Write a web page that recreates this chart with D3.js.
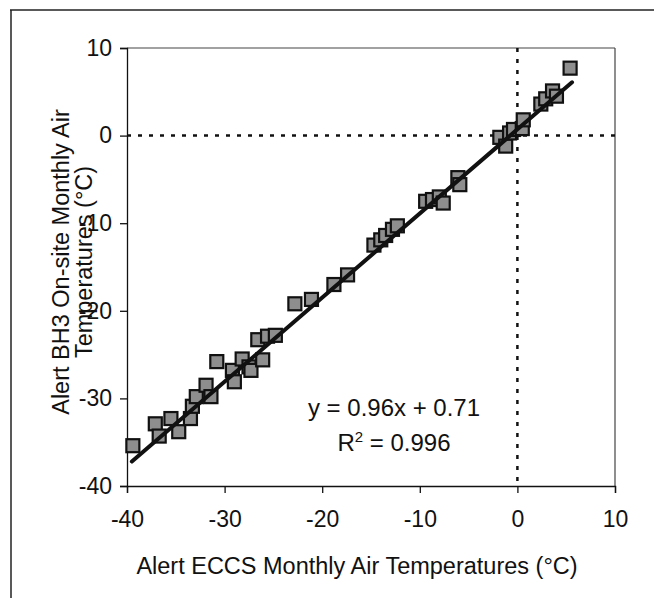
<!DOCTYPE html>
<html>
<head>
<meta charset="utf-8">
<script src="https://cdn.jsdelivr.net/npm/d3@7"></script>
<style>
  body { margin: 0; background: #fff; }
  text { font-family: "Liberation Sans", Arial, sans-serif; fill: #111; }
</style>
</head>
<body>
<div id="chart"></div>
<script>
  // monthly air temperatures, ECCS station (x) vs BH3 on-site (y), degC
  var eccsTemps = [-39.4, -37.1, -36.7, -35.5, -34.7, -33.5, -33.3, -32.9, -31.9, -31.4,
    -30.8, -29.2, -29.0, -28.2, -27.5, -27.3, -26.6, -26.1, -25.6, -24.8,
    -22.8, -21.1, -18.8, -17.4, -14.7, -14.0, -13.5, -12.8, -12.3, -9.4,
    -8.7, -8.0, -7.6, -6.1, -5.9, -1.8, -1.2, -0.8, -0.4, 0.5,
    0.6, 2.4, 2.9, 3.6, 4.0, 5.4];
  var bh3Temps = [-35.4, -32.9, -34.3, -32.3, -33.8, -32.3, -30.9, -29.8, -28.5, -29.8,
    -25.8, -26.8, -28.1, -25.5, -26.4, -26.8, -23.3, -25.6, -22.9, -22.8,
    -19.2, -18.7, -17.0, -15.9, -12.5, -11.9, -11.4, -10.7, -10.3, -7.5,
    -7.3, -7.0, -7.7, -4.8, -5.6, -0.2, -1.2, 0.3, 0.7, 0.8,
    1.8, 3.6, 4.2, 5.1, 4.5, 7.7];
  var xTicks = [-40, -30, -20, -10, 0, 10];
  var yTicks = [-40, -30, -20, -10, 0, 10];
  var slope = 0.96, intercept = 0.71;
  var eqLabels = ["y = 0.96x + 0.71", "0.996"];

  var w = 654, h = 598;
  var svg = d3.select("#chart").append("svg")
    .attr("width", w).attr("height", h)
    .attr("xmlns", "http://www.w3.org/2000/svg");

  var x = d3.scaleLinear().domain([-40, 10]).range([127, 615]);
  var y = d3.scaleLinear().domain([-40, 10]).range([486, 48]);

  // outer frame (top and left only visible)
  svg.append("line").attr("x1", 10).attr("y1", 10).attr("x2", w).attr("y2", 10)
    .attr("stroke", "#222").attr("stroke-width", 1.5);
  svg.append("line").attr("x1", 11).attr("y1", 10).attr("x2", 11).attr("y2", h)
    .attr("stroke", "#222").attr("stroke-width", 1.5);

  // plot box top/right
  svg.append("line").attr("x1", x(-40)).attr("x2", x(10)).attr("y1", y(10)).attr("y2", y(10))
    .attr("stroke", "#444").attr("stroke-width", 1.2);
  svg.append("line").attr("x1", x(10)).attr("x2", x(10)).attr("y1", y(10)).attr("y2", y(-40))
    .attr("stroke", "#444").attr("stroke-width", 1.2);

  var xAxis = svg.append("g").attr("transform", "translate(0," + y(-40) + ")")
    .call(d3.axisBottom(x).tickValues(xTicks).tickSize(7).tickPadding(18).tickFormat(d3.format("d")));
  var yAxis = svg.append("g").attr("transform", "translate(" + x(-40) + ",0)")
    .call(d3.axisLeft(y).tickValues(yTicks).tickSize(7).tickPadding(8).tickFormat(d3.format("d")));
  [xAxis, yAxis].forEach(function(a) {
    a.select(".domain").attr("stroke", "#111").attr("stroke-width", 1.3);
    a.selectAll(".tick line").attr("stroke", "#111").attr("stroke-width", 1.3);
    a.selectAll(".tick text").attr("font-size", 23).attr("fill", "#111")
      .attr("font-family", "Liberation Sans, Arial, sans-serif")
      .text(function(d) { return d < 0 ? "-" + Math.abs(d) : d; });
  });

  // zero reference lines
  svg.append("line").attr("x1", x(-40)).attr("x2", x(10)).attr("y1", y(0)).attr("y2", y(0))
    .attr("stroke", "#111").attr("stroke-width", 2.5).attr("stroke-dasharray", "4,7");
  svg.append("line").attr("x1", x(0)).attr("x2", x(0)).attr("y1", y(10)).attr("y2", y(-40))
    .attr("stroke", "#111").attr("stroke-width", 2.5).attr("stroke-dasharray", "4,7");

  var pts = eccsTemps.map(function(d, i) { return [d, bh3Temps[i]]; });
  var s = 13;
  svg.append("g").selectAll("rect").data(pts).enter().append("rect")
    .attr("x", function(d) { return x(d[0]) - s / 2; })
    .attr("y", function(d) { return y(d[1]) - s / 2; })
    .attr("width", s).attr("height", s)
    .attr("fill", "#8e8e8e").attr("stroke", "#111").attr("stroke-width", 2.2);

  // trendline over data range
  var xr = d3.extent(eccsTemps);
  var line = d3.line().x(function(d) { return x(d); }).y(function(d) { return y(slope * d + intercept); });
  svg.append("path").attr("d", line([xr[0] - 0.1, xr[1] + 0.2]))
    .attr("stroke", "#111").attr("stroke-width", 4).attr("fill", "none")
    .attr("stroke-linecap", "round");

  // equation
  svg.append("text").attr("x", 394).attr("y", 416).attr("text-anchor", "middle")
    .attr("font-size", 24).text(eqLabels[0]);
  var r2 = svg.append("text").attr("x", 394).attr("y", 451).attr("text-anchor", "middle")
    .attr("font-size", 24);
  r2.append("tspan").text("R");
  r2.append("tspan").attr("font-size", 15).attr("dy", -9).text("2");
  r2.append("tspan").attr("dy", 9).text(" = " + eqLabels[1]);

  // axis titles
  svg.append("text").attr("x", 357).attr("y", 574).attr("text-anchor", "middle")
    .attr("font-size", 23.5).text("Alert ECCS Monthly Air Temperatures (°C)");
  var yt = svg.append("text").attr("transform", "translate(69,262) rotate(-90)")
    .attr("text-anchor", "middle").attr("font-size", 23.5);
  yt.append("tspan").attr("x", 0).attr("y", 0).text("Alert BH3 On-site Monthly Air");
  yt.append("tspan").attr("x", 0).attr("y", 23).text("Temperatures (°C)");
</script>
</body>
</html>
